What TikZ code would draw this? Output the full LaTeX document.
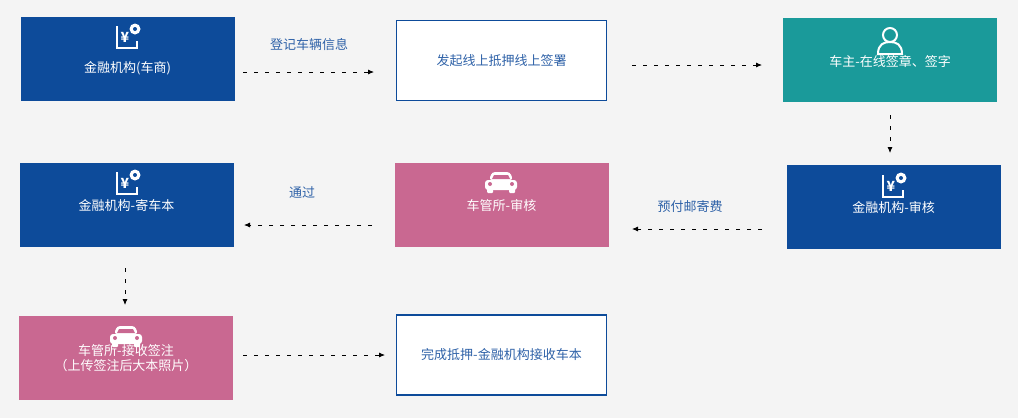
\documentclass[tikz,border=0pt]{standalone}
\usepackage{fontspec}
\setmainfont{Noto Sans CJK SC}
\usetikzlibrary{arrows.meta}
\definecolor{fblue}{HTML}{0D4B9A}
\definecolor{fteal}{HTML}{1A9A9A}
\definecolor{fpink}{HTML}{C96891}
\definecolor{lblue}{HTML}{2F62A8}
\definecolor{bg}{HTML}{F4F4F4}
\tikzset{
  blk/.style={rectangle,minimum width=214pt,minimum height=84pt,font=\fontsize{13}{17}\selectfont,text=white,inner sep=0pt},
  bluebox/.style={blk,fill=fblue},
  tealbox/.style={blk,fill=fteal},
  pinkbox/.style={blk,fill=fpink},
  wbox/.style={blk,fill=white,draw=fblue,line width=1.5pt,text=lblue,minimum width=210pt,minimum height=80pt},
  conn/.style={densely dashed,dash pattern=on 4pt off 7pt,line width=0.8pt,-{Latex[length=6pt,width=5pt]}},
  lab/.style={font=\fontsize{13}{15}\selectfont,text=lblue},
}
\newcommand{\yenicon}[1]{%
  \begin{scope}[shift={(#1)}]
    \draw[white,line width=2.2pt] (-10,-11) -- (-10,11) -- (10,11) -- (10,4);
    \draw[white,line width=2.2pt] (-10,11) -- (4,11);
    \node[white,font=\bfseries\fontsize{14}{14}\selectfont] at (-2,0) {¥};
    \fill[white] (8,-8) circle (5.5pt);
    \fill[fblue] (8,-8) circle (2pt);
  \end{scope}}
\newcommand{\caricon}[1]{%
  \begin{scope}[shift={(#1)}]
    \fill[white,rounded corners=3pt] (-9,-10) -- (9,-10) -- (12,-2) -- (-12,-2) -- cycle;
    \fill[fpink] (-7,-7) -- (7,-7) -- (9,-3) -- (-9,-3) -- cycle;
    \fill[white,rounded corners=3pt] (-16,-2) rectangle (16,8);
    \fill[white,rounded corners=1pt] (-14,6) rectangle (-8,11);
    \fill[white,rounded corners=1pt] (8,6) rectangle (14,11);
    \fill[fpink] (-11,2) circle (2pt) (11,2) circle (2pt);
  \end{scope}}
\begin{document}
\begin{tikzpicture}[x=1pt,y=-1pt]
\fill[bg] (0,0) rectangle (1018,418);
\useasboundingbox (0,0) rectangle (1018,418);
\node[bluebox,text depth=0pt] (a) at (127.5,58.5) {\raisebox{-14pt}{金融机构(车商)}};
\node[wbox] (b) at (501.5,60.5) {发起线上抵押线上签署};
\node[tealbox] (c) at (890,59.5) {\raisebox{-16pt}{车主-在线签章、签字}};
\node[bluebox] (d) at (893.5,206.5) {\raisebox{-14pt}{金融机构-审核}};
\node[pinkbox] (e) at (501.5,204.5) {\raisebox{-14pt}{车管所-审核}};
\node[bluebox] (f) at (126.5,204.5) {\raisebox{-14pt}{金融机构-寄车本}};
\node[pinkbox,align=center] (g) at (126,358) {\raisebox{-20pt}{\shortstack{车管所-接收签注\\（上传签注后大本照片）}}};
\node[wbox] (h) at (501.5,355) {完成抵押-金融机构接收车本};
\yenicon{127,37}
\yenicon{893,186}
\yenicon{127,183}
\caricon{501,182}
\caricon{126,336}
\begin{scope}[shift={(890,40)}]
  \draw[white,line width=2pt] (0,-5) circle (7pt);
  \draw[white,line width=2pt] (-12,14) .. controls (-12,4) and (-6,2) .. (0,2) .. controls (6,2) and (12,4) .. (12,14) -- cycle;
\end{scope}
\coordinate (a1) at (243,72); \coordinate (b1) at (374,72);
\draw[conn] (a1) -- (b1);
\node[lab] (l1) at (309,45) {登记车辆信息};
\coordinate (b2) at (632,65); \coordinate (c1) at (762,65);
\draw[conn] (b2) -- (c1);
\coordinate (c2) at (890,115); \coordinate (d1) at (890,153);
\draw[conn] (c2) -- (d1);
\coordinate (d2) at (762,229); \coordinate (e1) at (632,229);
\draw[conn] (d2) -- (e1);
\node[lab] (l2) at (690,207) {预付邮寄费};
\coordinate (e2) at (372,225); \coordinate (f1) at (244,225);
\draw[conn] (e2) -- (f1);
\node[lab] (l3) at (302,193) {通过};
\coordinate (f2) at (125,268); \coordinate (g1) at (125,305);
\draw[conn] (f2) -- (g1);
\coordinate (g2) at (243,355); \coordinate (h1) at (385,355);
\draw[conn] (g2) -- (h1);
\end{tikzpicture}
\end{document}
